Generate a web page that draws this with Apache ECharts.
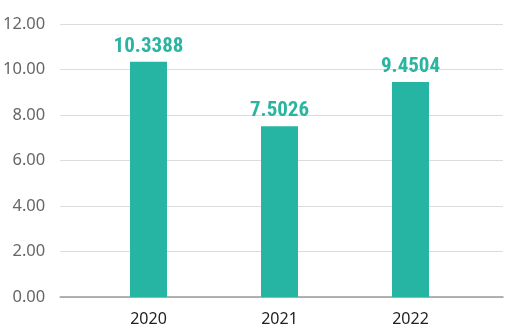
<!DOCTYPE html>
<html><head><meta charset="utf-8">
<script src="https://cdn.jsdelivr.net/npm/echarts@6/dist/echarts.min.js"></script>
<style>html,body{margin:0;padding:0;background:#fff}#c{width:506px;height:332px}</style>
</head><body><div id="c"></div>
<script>
var categories = ['2020', '2021', '2022'];
var values = [10.3388, 7.5026, 9.4504];
var yTicks = { min: 0, max: 12, interval: 2 };

var chart = echarts.init(document.getElementById('c'));
chart.setOption({
  animation: false,
  grid: [
    { left: 58, right: 3, top: 24, bottom: 35 },
    { left: 83, right: 30, top: 24, bottom: 35 }
  ],
  xAxis: [
    { type: 'category', gridIndex: 0, data: [''], axisTick: { show: false }, axisLabel: { show: false },
      axisLine: { show: true, lineStyle: { color: '#9a9a9a', width: 1.5 } } },
    { type: 'category', gridIndex: 1, data: categories, axisTick: { show: false },
      axisLine: { show: false },
      axisLabel: { color: '#222', fontSize: 16, fontFamily: 'Noto Sans', margin: 14 } }
  ],
  yAxis: [
    { type: 'value', gridIndex: 0, min: yTicks.min, max: yTicks.max, interval: yTicks.interval,
      axisLine: { show: false }, axisTick: { show: false },
      axisLabel: { color: '#666', fontSize: 16.5, fontFamily: 'Noto Sans', margin: 15,
        formatter: function (v) { return v.toFixed(2); } },
      splitLine: { lineStyle: { color: '#dcdcdc', width: 1 } } },
    { type: 'value', gridIndex: 1, min: yTicks.min, max: yTicks.max, interval: yTicks.interval,
      axisLine: { show: false }, axisTick: { show: false }, axisLabel: { show: false },
      splitLine: { show: false } }
  ],
  series: [{
    type: 'bar', xAxisIndex: 1, yAxisIndex: 1, barWidth: 37, data: values,
    itemStyle: { color: '#26b5a3' },
    label: { show: true, position: 'top', distance: 5, color: '#2bb5a0', fontSize: 21,
      fontStyle: 'extra-condensed', fontWeight: 'bold', fontFamily: 'Roboto, "Open Sans", sans-serif',
      formatter: function (p) { return p.value.toFixed(4); } }
  }]
});
</script></body></html>
